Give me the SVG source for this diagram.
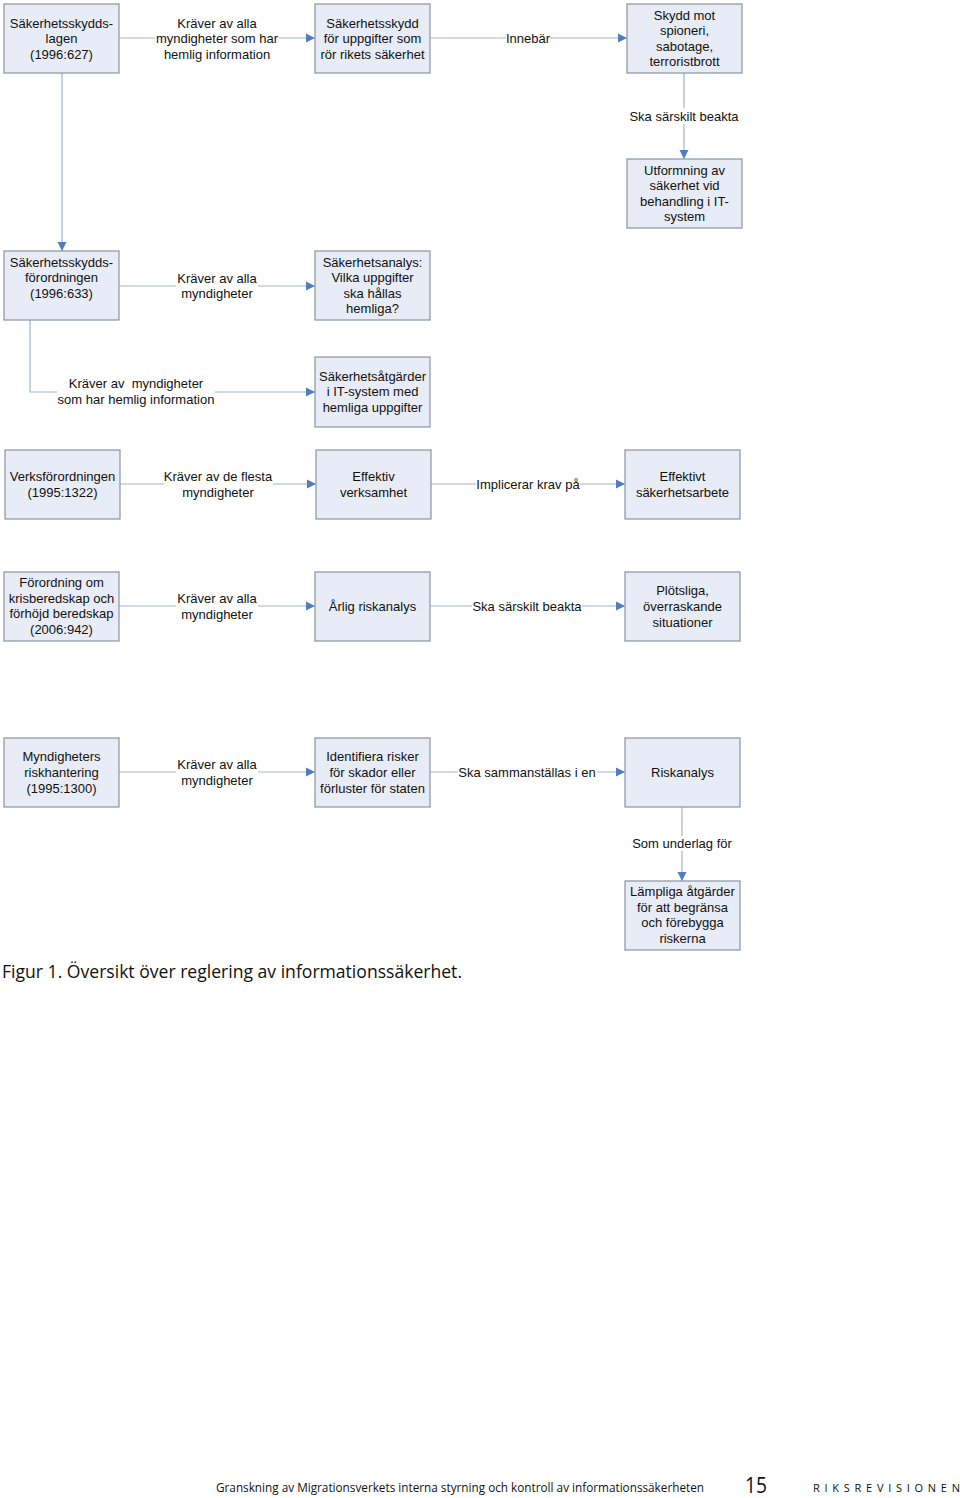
<svg xmlns="http://www.w3.org/2000/svg" width="960" height="1498" viewBox="0 0 960 1498">
<style>
.box{fill:#E7ECF6;stroke:#8C949F;stroke-width:1.2}
.t{font-family:"Liberation Sans",Arial,sans-serif;font-size:13px;text-anchor:middle;fill:#111}
.ln{fill:none;stroke:#A3B3C9;stroke-width:1.2}
.bg{fill:#fff}
.cap{font-family:"Open Sans","Noto Sans",sans-serif;font-size:18px;fill:#111}
.ft{font-family:"Open Sans","Noto Sans",sans-serif;fill:#111}
</style>
<defs>
<marker id="ah" viewBox="0 0 10 10" refX="10" refY="5" markerWidth="9" markerHeight="10" markerUnits="userSpaceOnUse" orient="auto">
<path d="M0,0 L10,5 L0,10 z" fill="#4F7EBE"/>
</marker>
</defs>
<rect width="960" height="1498" fill="#fff"/>

<g id="connectors">
<path class="ln" d="M119,38 H315" marker-end="url(#ah)"/>
<path class="ln" d="M430,38 H627" marker-end="url(#ah)"/>
<path class="ln" d="M684,73 V159" marker-end="url(#ah)"/>
<path class="ln" d="M62,73 V251" marker-end="url(#ah)"/>
<path class="ln" d="M119,286 H315" marker-end="url(#ah)"/>
<path class="ln" d="M30,320 V392 H315" marker-end="url(#ah)"/>
<path class="ln" d="M120,484 H316" marker-end="url(#ah)"/>
<path class="ln" d="M431,484 H625" marker-end="url(#ah)"/>
<path class="ln" d="M119,606 H315" marker-end="url(#ah)"/>
<path class="ln" d="M430,606 H625" marker-end="url(#ah)"/>
<path class="ln" d="M119,772 H315" marker-end="url(#ah)"/>
<path class="ln" d="M430,772 H625" marker-end="url(#ah)"/>
<path class="ln" d="M682,807 V881" marker-end="url(#ah)"/>

<rect class="bg" x="155" y="14" width="124" height="50"/>
<text class="t"><tspan x="217" y="27.5">Kräver av alla</tspan><tspan x="217" y="43">myndigheter som har</tspan><tspan x="217" y="58.5">hemlig information</tspan></text>
<rect class="bg" x="506" y="31" width="44" height="15"/>
<text class="t" x="528" y="42.5">Innebär</text>
<rect class="bg" x="629" y="108" width="111" height="16"/>
<text class="t" x="684" y="120.5">Ska särskilt beakta</text>
<rect class="bg" x="176" y="270" width="82" height="31"/>
<text class="t"><tspan x="217" y="282.5">Kräver av alla</tspan><tspan x="217" y="298">myndigheter</tspan></text>
<rect class="bg" x="57" y="375" width="158" height="32"/>
<text class="t"><tspan x="136" y="387.5">Kräver av&#160; myndigheter</tspan><tspan x="136" y="403.5">som har hemlig information</tspan></text>
<rect class="bg" x="164" y="468" width="109" height="31"/>
<text class="t"><tspan x="218" y="480.5">Kräver av de flesta</tspan><tspan x="218" y="496.5">myndigheter</tspan></text>
<rect class="bg" x="476" y="477" width="104" height="15"/>
<text class="t" x="528" y="488.5">Implicerar krav på</text>
<rect class="bg" x="176" y="590" width="82" height="31"/>
<text class="t"><tspan x="217" y="602.5">Kräver av alla</tspan><tspan x="217" y="618.5">myndigheter</tspan></text>
<rect class="bg" x="472" y="599" width="110" height="15"/>
<text class="t" x="527" y="610.5">Ska särskilt beakta</text>
<rect class="bg" x="176" y="756" width="82" height="31"/>
<text class="t"><tspan x="217" y="768.5">Kräver av alla</tspan><tspan x="217" y="784.5">myndigheter</tspan></text>
<rect class="bg" x="458" y="765" width="139" height="15"/>
<text class="t" x="527" y="776.5">Ska sammanställas i en</text>
<rect class="bg" x="631" y="836" width="102" height="15"/>
<text class="t" x="682" y="847.5">Som underlag för</text>
</g>

<g id="n1"><rect class="box" x="4" y="4" width="115" height="69"/><text class="t"><tspan x="61.5" y="27.5">Säkerhetsskydds-</tspan><tspan x="61.5" y="43">lagen</tspan><tspan x="61.5" y="58.5">(1996:627)</tspan></text></g>
<g id="n2"><rect class="box" x="315" y="4" width="115" height="69"/><text class="t"><tspan x="372.5" y="27.5">Säkerhetsskydd</tspan><tspan x="372.5" y="43">för uppgifter som</tspan><tspan x="372.5" y="58.5">rör rikets säkerhet</tspan></text></g>
<g id="n3"><rect class="box" x="627" y="4" width="115" height="69"/><text class="t"><tspan x="684.5" y="19.5">Skydd mot</tspan><tspan x="684.5" y="35">spioneri,</tspan><tspan x="684.5" y="50.5">sabotage,</tspan><tspan x="684.5" y="66">terroristbrott</tspan></text></g>
<g id="n4"><rect class="box" x="627" y="159" width="115" height="69"/><text class="t"><tspan x="684.5" y="174.5">Utformning av</tspan><tspan x="684.5" y="190">säkerhet vid</tspan><tspan x="684.5" y="205.5">behandling i IT-</tspan><tspan x="684.5" y="221">system</tspan></text></g>
<g id="n5"><rect class="box" x="4" y="251" width="115" height="69"/><text class="t"><tspan x="61.5" y="266.5">Säkerhetsskydds-</tspan><tspan x="61.5" y="282">förordningen</tspan><tspan x="61.5" y="297.5">(1996:633)</tspan></text></g>
<g id="n6"><rect class="box" x="315" y="251" width="115" height="69"/><text class="t"><tspan x="372.5" y="266.5">Säkerhetsanalys:</tspan><tspan x="372.5" y="282">Vilka uppgifter</tspan><tspan x="372.5" y="297.5">ska hållas</tspan><tspan x="372.5" y="313">hemliga?</tspan></text></g>
<g id="n7"><rect class="box" x="315" y="357" width="115" height="70"/><text class="t"><tspan x="372.5" y="380.5">Säkerhetsåtgärder</tspan><tspan x="372.5" y="396">i IT-system med</tspan><tspan x="372.5" y="411.5">hemliga uppgifter</tspan></text></g>
<g id="n8"><rect class="box" x="5" y="450" width="115" height="69"/><text class="t"><tspan x="62.5" y="480.5">Verksförordningen</tspan><tspan x="62.5" y="496.5">(1995:1322)</tspan></text></g>
<g id="n9"><rect class="box" x="316" y="450" width="115" height="69"/><text class="t"><tspan x="373.5" y="480.5">Effektiv</tspan><tspan x="373.5" y="496.5">verksamhet</tspan></text></g>
<g id="n10"><rect class="box" x="625" y="450" width="115" height="69"/><text class="t"><tspan x="682.5" y="480.5">Effektivt</tspan><tspan x="682.5" y="496.5">säkerhetsarbete</tspan></text></g>
<g id="n11"><rect class="box" x="4" y="572" width="115" height="69"/><text class="t"><tspan x="61.5" y="587">Förordning om</tspan><tspan x="61.5" y="602.5">krisberedskap och</tspan><tspan x="61.5" y="618">förhöjd beredskap</tspan><tspan x="61.5" y="633.5">(2006:942)</tspan></text></g>
<g id="n12"><rect class="box" x="315" y="572" width="115" height="69"/><text class="t" x="372.5" y="610.5">Årlig riskanalys</text></g>
<g id="n13"><rect class="box" x="625" y="572" width="115" height="69"/><text class="t"><tspan x="682.5" y="594.5">Plötsliga,</tspan><tspan x="682.5" y="610.5">överraskande</tspan><tspan x="682.5" y="626.5">situationer</tspan></text></g>
<g id="n14"><rect class="box" x="4" y="738" width="115" height="69"/><text class="t"><tspan x="61.5" y="760.5">Myndigheters</tspan><tspan x="61.5" y="776.5">riskhantering</tspan><tspan x="61.5" y="792.5">(1995:1300)</tspan></text></g>
<g id="n15"><rect class="box" x="315" y="738" width="115" height="69"/><text class="t"><tspan x="372.5" y="760.5">Identifiera risker</tspan><tspan x="372.5" y="776.5">för skador eller</tspan><tspan x="372.5" y="792.5">förluster för staten</tspan></text></g>
<g id="n16"><rect class="box" x="625" y="738" width="115" height="69"/><text class="t" x="682.5" y="776.5">Riskanalys</text></g>
<g id="n17"><rect class="box" x="625" y="881" width="115" height="69"/><text class="t"><tspan x="682.5" y="896">Lämpliga åtgärder</tspan><tspan x="682.5" y="911.5">för att begränsa</tspan><tspan x="682.5" y="927">och förebygga</tspan><tspan x="682.5" y="943">riskerna</tspan></text></g>

<text class="cap" x="2" y="978" textLength="460" lengthAdjust="spacingAndGlyphs">Figur 1. Översikt över reglering av informationssäkerhet.</text>
<text class="ft" x="216" y="1492" font-size="12" textLength="488" lengthAdjust="spacingAndGlyphs">Granskning av Migrationsverkets interna styrning och kontroll av informationssäkerheten</text>
<text class="ft" x="745" y="1493" font-size="21" textLength="22" lengthAdjust="spacingAndGlyphs">15</text>
<text class="ft" x="813" y="1492" font-size="11" textLength="147" lengthAdjust="spacing">RIKSREVISIONEN</text>
</svg>
